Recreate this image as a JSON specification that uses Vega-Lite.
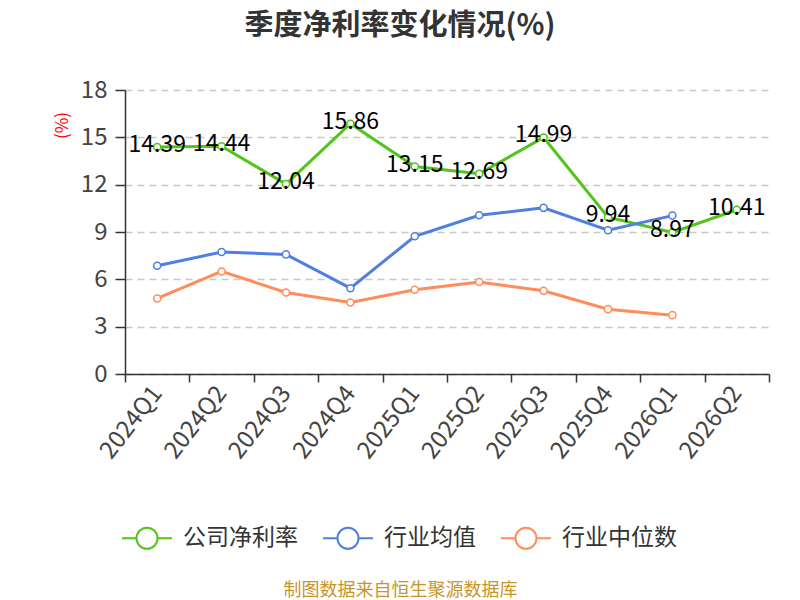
{
  "$schema": "https://vega.github.io/schema/vega-lite/v6.json",
  "width": 644,
  "height": 284,
  "autosize": {"type": "none"},
  "padding": {"left": 125, "top": 90, "right": 31, "bottom": 226},
  "background": "white",
  "title": {
    "text": "季度净利率变化情况(%)",
    "frame": "group",
    "anchor": "middle",
    "dx": -47,
    "offset": 37,
    "fontSize": 29,
    "fontWeight": "bold",
    "color": "#333333",
    "font": "Noto Sans CJK SC"
  },
  "data": {
    "values": [
      {"quarter": "2024Q1", "series": "公司净利率", "value": 14.39},
      {"quarter": "2024Q2", "series": "公司净利率", "value": 14.44},
      {"quarter": "2024Q3", "series": "公司净利率", "value": 12.04},
      {"quarter": "2024Q4", "series": "公司净利率", "value": 15.86},
      {"quarter": "2025Q1", "series": "公司净利率", "value": 13.15},
      {"quarter": "2025Q2", "series": "公司净利率", "value": 12.69},
      {"quarter": "2025Q3", "series": "公司净利率", "value": 14.99},
      {"quarter": "2025Q4", "series": "公司净利率", "value": 9.94},
      {"quarter": "2026Q1", "series": "公司净利率", "value": 8.97},
      {"quarter": "2026Q2", "series": "公司净利率", "value": 10.41},
      {"quarter": "2024Q1", "series": "行业均值", "value": 6.86},
      {"quarter": "2024Q2", "series": "行业均值", "value": 7.73},
      {"quarter": "2024Q3", "series": "行业均值", "value": 7.58},
      {"quarter": "2024Q4", "series": "行业均值", "value": 5.44},
      {"quarter": "2025Q1", "series": "行业均值", "value": 8.73},
      {"quarter": "2025Q2", "series": "行业均值", "value": 10.06},
      {"quarter": "2025Q3", "series": "行业均值", "value": 10.53},
      {"quarter": "2025Q4", "series": "行业均值", "value": 9.11},
      {"quarter": "2026Q1", "series": "行业均值", "value": 10.04},
      {"quarter": "2024Q1", "series": "行业中位数", "value": 4.79},
      {"quarter": "2024Q2", "series": "行业中位数", "value": 6.5},
      {"quarter": "2024Q3", "series": "行业中位数", "value": 5.17},
      {"quarter": "2024Q4", "series": "行业中位数", "value": 4.53},
      {"quarter": "2025Q1", "series": "行业中位数", "value": 5.34},
      {"quarter": "2025Q2", "series": "行业中位数", "value": 5.83},
      {"quarter": "2025Q3", "series": "行业中位数", "value": 5.28},
      {"quarter": "2025Q4", "series": "行业中位数", "value": 4.11},
      {"quarter": "2026Q1", "series": "行业中位数", "value": 3.73}
    ]
  },
  "encoding": {
    "x": {
      "field": "quarter",
      "type": "ordinal",
      "scale": {"type": "band", "paddingInner": 0, "paddingOuter": 0},
      "axis": {
        "title": "制图数据来自恒生聚源数据库",
        "titleX": 275,
        "titleY": 216,
        "titleAngle": 0,
        "titleAlign": "center",
        "titleBaseline": "middle",
        "titleFontSize": 18,
        "titleFontWeight": "normal",
        "titleColor": "#c8952a",
        "tickBand": "extent",
        "tickSize": 8,
        "labelAngle": -52,
        "labelAlign": "right",
        "labelBaseline": "middle",
        "labelFontSize": 24,
        "labelPadding": 7
      }
    },
    "y": {
      "field": "value",
      "type": "quantitative",
      "scale": {"domain": [0, 18]},
      "axis": {
        "values": [0, 3, 6, 9, 12, 15, 18],
        "title": "(%)",
        "titleColor": "#ff0000",
        "titleFontSize": 17,
        "titleFontWeight": "normal",
        "titleX": -63,
        "titleY": 35,
        "titleAlign": "center",
        "titleBaseline": "middle",
        "tickSize": 10,
        "labelPadding": 8,
        "labelFontSize": 24,
        "grid": true,
        "gridDash": [7, 5],
        "gridColor": "#c8c8c8",
        "gridWidth": 1.5
      }
    },
    "stroke": {
      "field": "series",
      "type": "nominal",
      "sort": ["公司净利率", "行业均值", "行业中位数"],
      "scale": {
        "domain": ["公司净利率", "行业均值", "行业中位数"],
        "range": ["#52c41a", "#4f7fe3", "#ff8c5a"]
      },
      "legend": {
        "orient": "none",
        "legendX": -4,
        "legendY": 422,
        "direction": "horizontal",
        "title": null,
        "symbolType": "M-1,0L-0.42,0M0.42,0L1,0M0.42,0A0.42,0.42,0,1,1,-0.42,0A0.42,0.42,0,1,1,0.42,0",
        "symbolSize": 2500,
        "symbolStrokeWidth": 2,
        "symbolFillColor": "white",
        "labelFontSize": 23,
        "labelColor": "#333333",
        "labelOffset": 10,
        "columnPadding": 21
      }
    }
  },
  "layer": [
    {
      "mark": {"type": "line", "strokeWidth": 3}
    },
    {
      "mark": {"type": "point", "filled": true, "fill": "white", "size": 50, "strokeWidth": 1.5, "opacity": 1}
    },
    {
      "transform": [{"filter": "datum.series === '公司净利率'"}],
      "mark": {"type": "text", "fontSize": 23, "color": "#000000", "baseline": "middle", "dy": -2, "font": "Noto Sans CJK SC"},
      "encoding": {
        "text": {"field": "value", "type": "quantitative", "format": ".2f"},
        "stroke": {"value": null}
      }
    }
  ],
  "config": {
    "font": "Noto Sans CJK SC",
    "view": {"stroke": null},
    "axis": {
      "labelFont": "Noto Sans CJK SC",
      "labelColor": "#444444",
      "domainColor": "#333333",
      "domainWidth": 1.5,
      "tickColor": "#333333",
      "tickWidth": 1.5
    },
    "axisX": {"grid": false},
    "legend": {"labelFont": "Noto Sans CJK SC"}
  }
}
